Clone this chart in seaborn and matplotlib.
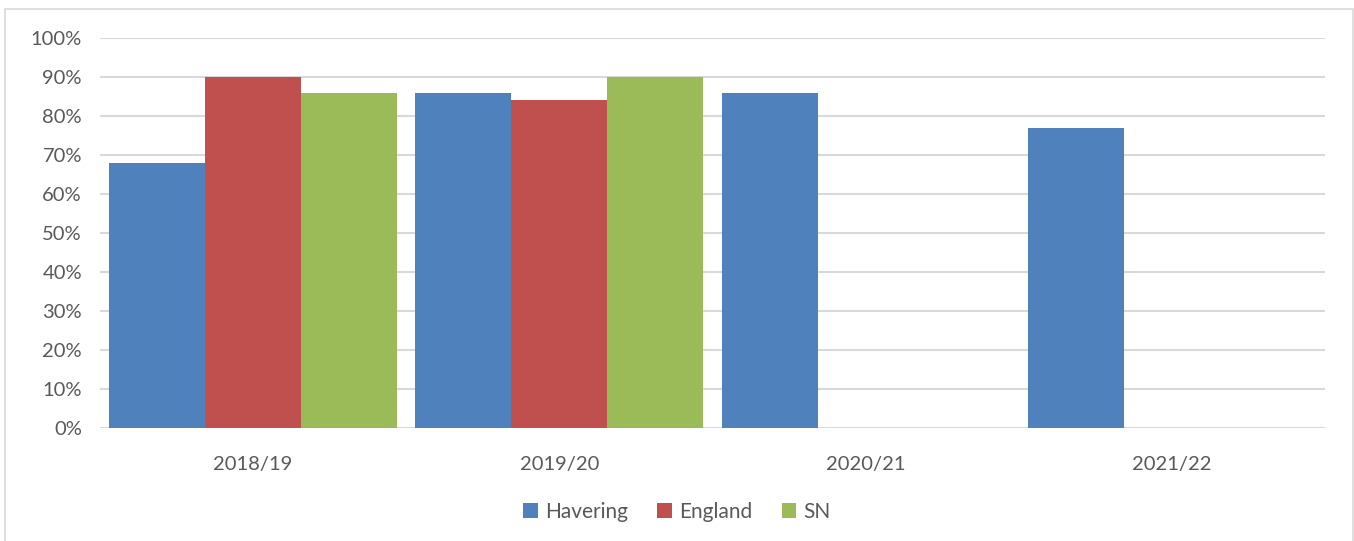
import numpy as np
import pandas as pd
import matplotlib
matplotlib.use("Agg")
import matplotlib.pyplot as plt
from matplotlib.patches import Rectangle
from matplotlib.ticker import PercentFormatter
import seaborn as sns

# Data
years = ["2018/19", "2019/20", "2020/21", "2021/22"]
havering = [68, 86, 86, 77]
england = [90, 84, np.nan, np.nan]
sn = [86, 90, np.nan, np.nan]
series_names = ["Havering", "England", "SN"]
colors = ["#4F81BD", "#C0504D", "#9BBB59"]

df = pd.DataFrame({
    "Year": years * 3,
    "Series": [s for s in series_names for _ in years],
    "Value": havering + england + sn,
})

sns.set_theme(style="white")
plt.rcParams["font.family"] = ["Lato", "DejaVu Sans"]
text_color = "#595959"
grid_color = "#D9D9D9"

fig = plt.figure(figsize=(13.54, 5.41), dpi=100)
ax = fig.add_axes([100 / 1354, 113 / 541, 1225 / 1354, 390 / 541])

sns.barplot(data=df, x="Year", y="Value", hue="Series", order=years,
            hue_order=series_names, palette=colors, width=0.94, gap=0,
            saturation=1, linewidth=0, ax=ax)

ax.set_ylim(0, 100)
ax.set_yticks(np.arange(0, 101, 10))
ax.yaxis.set_major_formatter(PercentFormatter(decimals=0))
ax.set_xlim(-0.5, len(years) - 0.5)
ax.set_xlabel("")
ax.set_ylabel("")
ax.grid(axis="y", color=grid_color, linewidth=1.5)
ax.set_axisbelow(True)
for side in ["top", "right", "left", "bottom"]:
    ax.spines[side].set_visible(False)
ax.tick_params(axis="both", length=0, labelsize=14.5, labelcolor=text_color)
ax.tick_params(axis="y", pad=13)
ax.tick_params(axis="x", pad=20)

ax.legend_.remove()
handles = [Rectangle((0, 0), 1, 1, facecolor=c, edgecolor="none") for c in colors]
fig.legend(handles, series_names, loc="center", bbox_to_anchor=(0.5, 1 - 512 / 541),
           ncol=3, frameon=False, fontsize=15, labelcolor=text_color,
           handlelength=0.7, handleheight=0.7, handletextpad=0.35, columnspacing=1.4)

# Chart border
fig.patches.append(Rectangle((5 / 1354, -0.1), 1348 / 1354, 0.1 + 532 / 541,
                             transform=fig.transFigure, facecolor="none",
                             edgecolor=grid_color, linewidth=1.2))

fig.savefig("out.png", dpi=100)
